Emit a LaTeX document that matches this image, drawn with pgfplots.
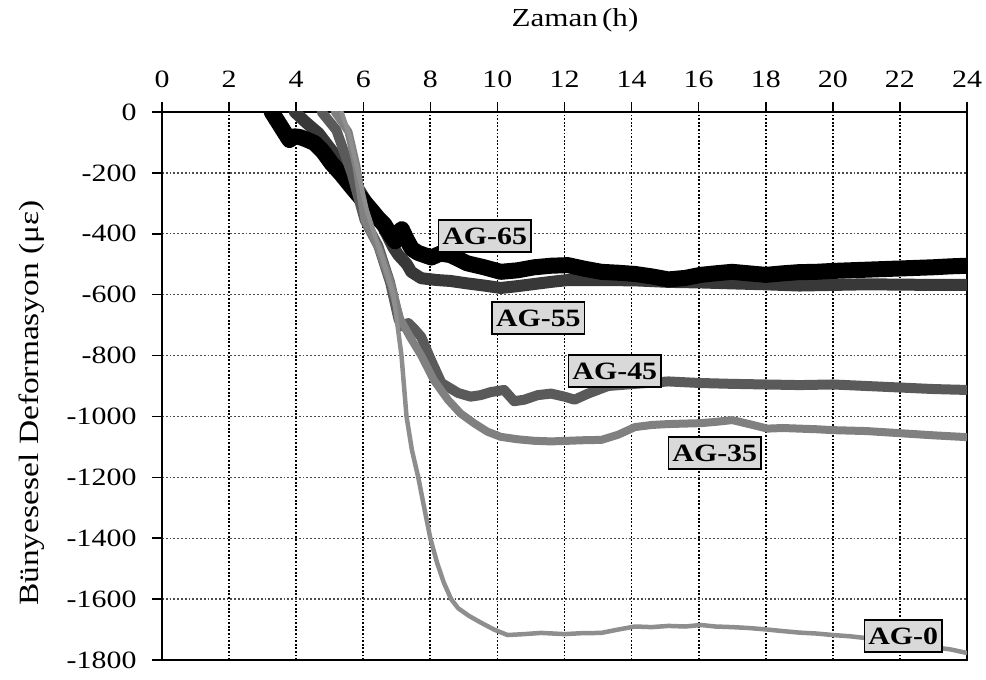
\documentclass[border=0pt]{standalone}
\usepackage{fontspec}
\setmainfont{Liberation Serif}
\newfontfamily\wide{Liberation Serif}[FakeStretch=1.2]
\usepackage{pgfplots}
\pgfplotsset{compat=1.18}

\definecolor{c65}{HTML}{000000}
\definecolor{c55}{HTML}{383838}
\definecolor{c45}{HTML}{5A5A5A}
\definecolor{c35}{HTML}{808080}
\definecolor{c0}{HTML}{8E8E8E}
\tikzset{lbl/.style={draw=black, fill=black!15, line width=1.5bp, font=\wide\fontsize{25}{28}\selectfont\bfseries,
    inner xsep=4bp, inner ysep=2bp, minimum height=32bp, anchor=center}}

\begin{document}
\begin{tikzpicture}
\useasboundingbox (-162bp,-20bp) rectangle (824bp,660bp);
\begin{axis}[
  scale only axis, width=805bp, height=548bp,
  xmin=0, xmax=24, ymin=-1800, ymax=0,
  xtick={0,2,...,24}, ytick={-1800,-1600,...,0},
  xtick pos=right, xticklabel pos=right, ytick pos=left,
  tick align=outside, major tick length=10bp,
  tick style={black, line width=1.5bp},
  axis line style={black, line width=1.8bp},
  /pgf/number format/assume math mode=true,
  /pgf/number format/1000 sep={},
  ticklabel style={font=\wide\fontsize{25}{28}\selectfont},
  xticklabel style={yshift=11bp},
  yticklabel style={xshift=-12bp},
  xmajorgrids, ymajorgrids,
  every axis x grid/.style={black, line width=1.8bp, dash pattern=on 1.8bp off 1.8bp},
  every axis y grid/.style={black!70, line width=1.3bp, dash pattern=on 1.8bp off 2bp},
  xlabel={Zaman\,(h)},
  xlabel style={at={(axis description cs:0.513,1.168)}, anchor=center, font=\wide\fontsize{26}{30}\selectfont},
  ylabel={Bünyesesel Deformasyon (με)},
  ylabel style={at={(axis description cs:-0.162,0.469)}, anchor=center, font=\wide\fontsize{28}{32}\selectfont},
  every axis plot/.append style={line join=round, line cap=round},
]
% AG-55
\addplot[c55, line width=12bp] coordinates {
(3.96,0) (4.3,-35) (4.67,-70) (5.05,-125) (5.44,-180) (5.95,-268) (6.3,-330) (6.6,-380)
(6.9,-445) (7.05,-470) (7.3,-500) (7.43,-525) (7.73,-546) (8.2,-552) (8.6,-555) (9.1,-563)
(9.6,-570) (10.1,-578) (10.6,-572) (11.1,-565) (11.6,-558) (12.1,-552) (13.1,-552) (14.1,-553)
(15.1,-558) (16.1,-560) (17,-563) (18,-566) (19,-570) (20,-568) (21,-566) (22,-567) (23,-568) (24,-568)
};
% AG-65
\addplot[c65, line width=16bp] coordinates {
(3.27,0) (3.5,-40) (3.7,-75) (3.8,-92) (3.95,-80) (4.1,-82) (4.3,-90) (4.55,-102) (4.8,-130)
(5.05,-168) (5.35,-205) (5.65,-246) (5.95,-285) (6.24,-322) (6.45,-350) (6.63,-370) (6.85,-410)
(6.95,-425) (7.05,-395) (7.15,-385) (7.3,-420) (7.45,-450) (7.64,-463) (8.03,-478) (8.3,-465)
(8.6,-470) (9.1,-497) (9.6,-510) (10.1,-525) (10.6,-520) (11.1,-510) (11.6,-505) (12.1,-503)
(12.6,-515) (13.1,-525) (13.6,-528) (14.1,-532) (14.6,-540) (15.1,-550) (15.6,-545) (16.06,-535)
(16.5,-530) (17,-525) (17.5,-530) (18,-535) (18.5,-530) (19,-526) (19.5,-525) (20,-522) (20.5,-520)
(21,-518) (21.5,-516) (22,-514) (22.5,-512) (23,-510) (23.5,-507) (24,-505)
};
% AG-45
\addplot[c45, line width=10bp] coordinates {
(4.76,0) (5.2,-60) (5.65,-200) (6.04,-355) (6.45,-440) (6.8,-560) (7.05,-680) (7.14,-705)
(7.34,-693) (7.5,-710) (7.73,-739) (8.0,-810) (8.33,-890) (8.83,-923) (9.2,-935) (9.5,-930)
(9.8,-920) (10.2,-913) (10.5,-950) (10.8,-945) (11.2,-930) (11.6,-925) (12,-935) (12.3,-945)
(12.7,-925) (13.3,-900) (14.1,-893) (15.1,-885) (16,-890) (17,-893) (18,-895) (19,-897)
(20,-895) (21,-900) (22,-905) (23,-910) (24,-913)
};
% AG-35
\addplot[c35, line width=8bp] coordinates {
(5.15,0) (5.56,-65) (5.8,-180) (6.04,-355) (6.45,-445) (6.84,-570) (7.1,-680) (7.4,-740)
(7.73,-800) (8.1,-880) (8.53,-946) (8.9,-990) (9.3,-1022) (9.7,-1050) (10.1,-1067) (10.6,-1075)
(11.1,-1080) (11.6,-1082) (12.1,-1080) (12.6,-1078) (13.1,-1077) (13.6,-1060) (14.1,-1035)
(14.6,-1028) (15.1,-1025) (16.06,-1022) (16.5,-1018) (17,-1012) (17.5,-1025) (18.05,-1040)
(18.5,-1038) (19,-1040) (19.5,-1042) (20,-1045) (21,-1048) (22,-1055) (23,-1062) (24,-1068)
};
% AG-0
\addplot[c0, line width=4.5bp] coordinates {
(5.35,0) (5.6,-80) (5.85,-200) (6.1,-320) (6.33,-400) (6.6,-490) (6.9,-600) (7.14,-800)
(7.29,-1000) (7.45,-1110) (7.64,-1200) (7.8,-1290) (8.0,-1400) (8.2,-1480) (8.4,-1545)
(8.62,-1600) (8.83,-1630) (9.15,-1655) (9.52,-1678)
(9.9,-1700) (10.3,-1718) (10.8,-1715) (11.3,-1711) (12,-1715) (12.5,-1712) (13.1,-1711)
(13.6,-1700) (14.1,-1690) (14.6,-1692) (15.1,-1688) (15.6,-1690) (16.06,-1685) (16.5,-1690)
(17,-1692) (17.5,-1695) (18.05,-1700) (18.5,-1705) (19,-1710) (19.5,-1713) (20,-1718)
(20.5,-1722) (21,-1728) (21.5,-1735) (22,-1745) (22.5,-1752) (23,-1758) (23.5,-1765) (24,-1777)
};
\node[lbl] at (axis cs:9.62,-407) {AG-65};
\node[lbl] at (axis cs:11.22,-677) {AG-55};
\node[lbl] at (axis cs:13.5,-851) {AG-45};
\node[lbl] at (axis cs:16.48,-1120) {AG-35};
\node[lbl] at (axis cs:22.1,-1721) {AG-0};
\end{axis}
\end{tikzpicture}
\end{document}
